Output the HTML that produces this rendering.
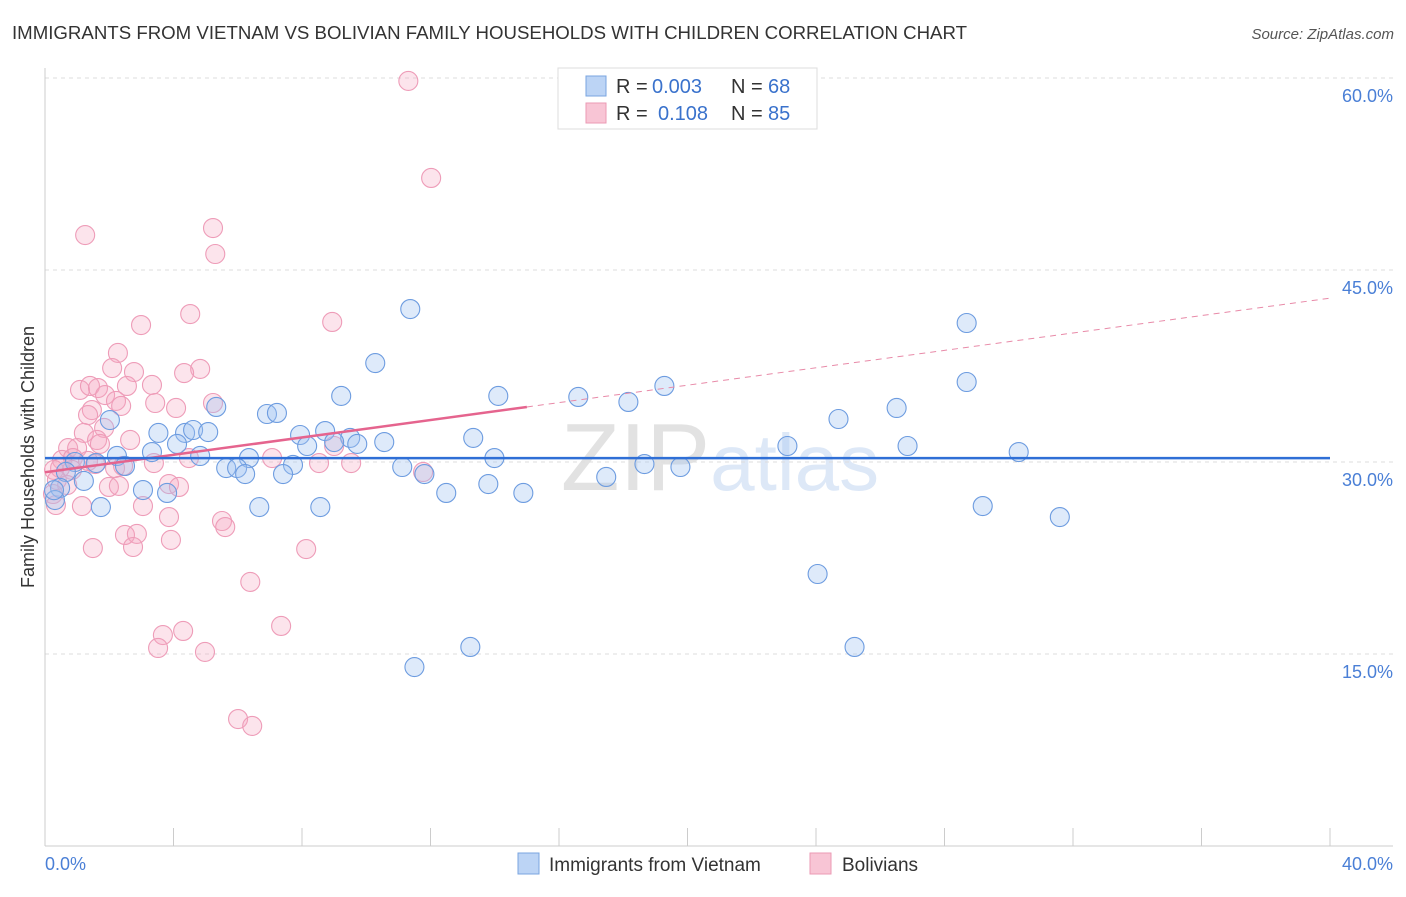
<!DOCTYPE html>
<html><head><meta charset="utf-8"><style>
body{margin:0;background:#fff;font-family:"Liberation Sans",sans-serif;}
svg text{font-family:"Liberation Sans",sans-serif;}
</style></head><body>
<svg id="chart" width="1406" height="892" xmlns="http://www.w3.org/2000/svg">
<text x="12" y="39" font-size="18" fill="#333" textLength="955" lengthAdjust="spacingAndGlyphs">IMMIGRANTS FROM VIETNAM VS BOLIVIAN FAMILY HOUSEHOLDS WITH CHILDREN CORRELATION CHART</text>
<text x="1394" y="39" font-size="15" fill="#555" font-style="italic" text-anchor="end">Source: ZipAtlas.com</text>
<text x="720" y="490" font-size="96" fill="#e4e4e4" text-anchor="middle" font-family="Liberation Serif"><tspan fill="#e2e2e2">ZIP</tspan><tspan fill="#dde8f7" font-family="Liberation Sans" font-size="80">atlas</tspan></text>
<g id="grid"></g>
<g id="axes"></g>
<g id="pink"></g>
<g id="blue"></g>
<g id="trends"></g>
<text transform="translate(34,457) rotate(-90)" font-size="18" fill="#333" text-anchor="middle">Family Households with Children</text>
<g>
<rect x="558" y="68" width="259" height="61" fill="#fff" stroke="#ddd"/>
<rect x="586" y="76" width="20" height="20" fill="#bcd4f5" stroke="#7aa5e0"/>
<rect x="586" y="103" width="20" height="20" fill="#f8c5d5" stroke="#eb9ab4"/>
<text x="616" y="93" font-size="20" fill="#333">R =</text>
<text x="652" y="93" font-size="20" fill="#3a72cc">0.003</text>
<text x="731" y="93" font-size="20" fill="#333">N =</text>
<text x="768" y="93" font-size="20" fill="#3a72cc">68</text>
<text x="616" y="120" font-size="20" fill="#333">R =</text>
<text x="658" y="120" font-size="20" fill="#3a72cc">0.108</text>
<text x="731" y="120" font-size="20" fill="#333">N =</text>
<text x="768" y="120" font-size="20" fill="#3a72cc">85</text>
</g>
<g>
<rect x="518" y="853" width="21" height="21" fill="#bcd4f5" stroke="#7aa5e0"/>
<text x="549" y="871" font-size="19" fill="#333">Immigrants from Vietnam</text>
<rect x="810" y="853" width="21" height="21" fill="#f8c5d5" stroke="#eb9ab4"/>
<text x="842" y="871" font-size="19" fill="#333">Bolivians</text>
</g>
</svg>
<script>
const yTicks=[15,30,45,60];
const yTickLabels=["15.0%","30.0%","45.0%","60.0%"];
const xTickVals=[0,4,8,12,16,20,24,28,32,36,40];
const xEndLabels=["0.0%","40.0%"];
const blueX=[11.37,28.69,10.28,28.69,19.28,9.22,14.11,16.6,18.16,26.51,5.33,24.7,6.91,7.22,2.02,3.53,4.36,4.61,5.08,8.72,7.94,9.5,13.33,4.11,8.16,9.0,9.72,10.56,23.11,26.85,30.31,3.33,2.24,4.83,6.35,13.99,0.93,1.59,2.49,5.64,5.98,6.23,7.72,7.41,11.12,11.81,18.66,19.78,17.47,0.65,1.21,0.47,3.05,3.8,12.49,13.8,14.89,0.31,1.74,6.67,8.57,29.19,31.59,24.05,13.24,25.2,11.5,0.28];
const blueY=[41.95,40.86,37.73,36.25,35.94,35.16,35.16,35.08,34.69,34.22,34.3,33.36,33.75,33.83,33.28,32.27,32.27,32.5,32.34,32.42,32.11,31.88,31.88,31.41,31.25,31.56,31.41,31.56,31.25,31.25,30.78,30.78,30.47,30.47,30.31,30.31,30.0,29.92,29.69,29.53,29.53,29.06,29.77,29.06,29.61,29.06,29.84,29.61,28.83,29.22,28.52,27.97,27.81,27.58,27.58,28.28,27.58,27.03,26.48,26.48,26.48,26.56,25.7,21.25,15.55,15.55,13.98,27.8];
const pinkX=[11.31,12.02,1.25,5.23,5.3,4.52,8.94,2.99,2.27,2.09,2.77,4.83,4.33,1.09,1.4,1.65,2.55,3.33,1.87,2.21,3.43,5.23,4.08,2.37,1.46,1.34,1.84,1.21,2.65,1.62,1.71,0.72,1.0,9.0,4.48,7.07,0.53,0.87,1.34,1.56,3.39,8.53,9.53,0.47,0.28,0.84,2.18,2.43,11.77,0.37,0.69,3.86,4.17,1.99,2.3,0.25,0.34,1.15,3.05,3.86,5.51,5.61,2.49,2.86,3.92,1.49,2.74,8.13,6.39,7.35,4.3,3.67,3.52,4.98,6.01,6.45];
const pinkY=[59.77,52.19,47.73,48.28,46.25,41.56,40.94,40.7,38.52,37.34,37.03,37.27,36.95,35.63,35.94,35.78,35.94,36.02,35.23,34.77,34.61,34.61,34.22,34.38,34.06,33.67,32.66,32.27,31.72,31.72,31.41,31.09,31.09,31.25,30.31,30.31,30.16,30.31,30.08,29.84,29.92,29.92,29.92,29.53,29.38,29.38,29.53,29.69,29.22,28.59,28.2,28.28,28.05,28.05,28.13,27.5,26.64,26.56,26.56,25.7,25.39,24.92,24.3,24.38,23.91,23.28,23.36,23.2,20.63,17.19,16.8,16.48,15.47,15.16,9.92,9.38];
const blueTrend=[30.3,30.3];
const pinkTrend=[29.2,0.34];
const pinkSolidEnd=15;

const NS="http://www.w3.org/2000/svg";
const sx=v=>45+v*32.125, sy=v=>846-v*12.8;
function mk(tag,attrs,parent){const e=document.createElementNS(NS,tag);for(const k in attrs)e.setAttribute(k,attrs[k]);parent.appendChild(e);return e;}
const grid=document.getElementById('grid'),axes=document.getElementById('axes');
yTicks.forEach((t,i)=>{
 const l=mk('line',{x1:45,x2:1393,y1:sy(t),y2:sy(t),stroke:'#ddd','stroke-dasharray':'4,4'},grid);
 
 
 const tx=mk('text',{x:1393,y:sy(t)+24,'font-size':18,fill:'#4a7fd6','text-anchor':'end'},axes);
 tx.textContent=yTickLabels[i];
 
 
});
const ax=mk('line',{x1:45,x2:1393,y1:846,y2:846,stroke:'#ccc'},axes);


const ay=mk('line',{x1:45,x2:45,y1:68,y2:846,stroke:'#ccc'},axes);


xTickVals.forEach(t=>{
 const l=mk('line',{x1:sx(t),x2:sx(t),y1:828,y2:846,stroke:'#ccc'},axes);
 
 
});
const xl0=mk('text',{x:45,y:870,'font-size':18,fill:'#4a7fd6'},axes);xl0.textContent=xEndLabels[0];


const xl1=mk('text',{x:1393,y:870,'font-size':18,fill:'#4a7fd6','text-anchor':'end'},axes);xl1.textContent=xEndLabels[1];


const pg=document.getElementById('pink'),bg=document.getElementById('blue');
pinkX.forEach((x,i)=>{
 const c=mk('circle',{cx:sx(x),cy:sy(pinkY[i]),r:9.5,fill:'rgba(245,165,192,0.3)',stroke:'#ee9cb8','stroke-width':1.1},pg);
 
 
});
blueX.forEach((x,i)=>{
 const c=mk('circle',{cx:sx(x),cy:sy(blueY[i]),r:9.5,fill:'rgba(160,195,240,0.35)',stroke:'#6d9ce0','stroke-width':1.1},bg);
 
 
});
const tg=document.getElementById('trends');
const pf=x=>pinkTrend[0]+pinkTrend[1]*x;
const pd=mk('line',{x1:sx(pinkSolidEnd),y1:sy(pf(pinkSolidEnd)),x2:sx(40),y2:sy(pf(40)),stroke:'#e88aa8','stroke-width':1,'stroke-dasharray':'6,5'},tg);


const ps=mk('line',{x1:sx(0),y1:sy(pf(0)),x2:sx(pinkSolidEnd),y2:sy(pf(pinkSolidEnd)),stroke:'#e5648e','stroke-width':2.5},tg);


const bl=mk('line',{x1:sx(0),y1:sy(blueTrend[0]),x2:sx(40),y2:sy(blueTrend[1]),stroke:'#2f6fd6','stroke-width':2.5},tg);


</script>
</body></html>
